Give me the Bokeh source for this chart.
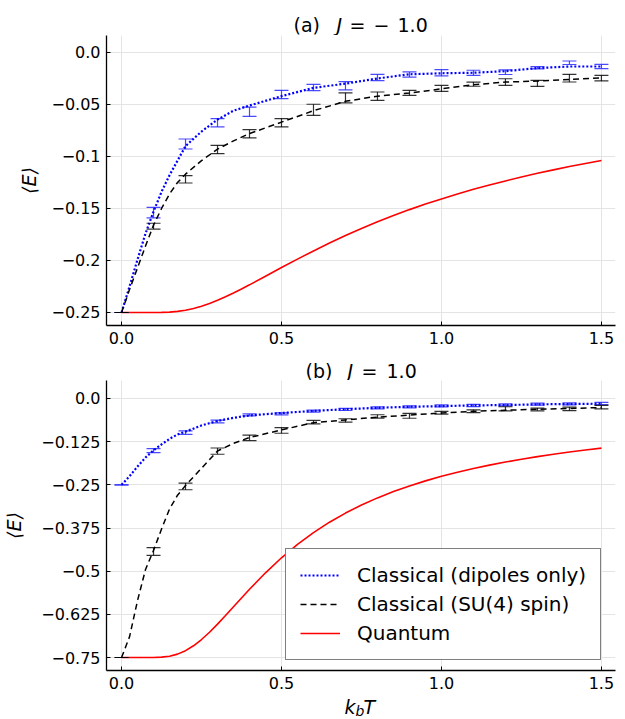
import math
from bokeh.plotting import figure
from bokeh.layouts import column
from bokeh.models import Range1d, FixedTicker, Legend, LegendItem
from bokeh.core.properties import value
from bokeh.embed import file_html
from bokeh.resources import INLINE

# ---------------- data ----------------
T_pts = [0.0, 0.1, 0.2, 0.3, 0.4, 0.5, 0.6, 0.7, 0.8, 0.9, 1.0, 1.1, 1.2, 1.3, 1.4, 1.5]

# (a) J = -1.0  -- Monte Carlo points with error bars
a_dip_mean = [-0.25, -0.154, -0.088, -0.0676, -0.057, -0.0404, -0.0337, -0.032, -0.024, -0.0212,
              -0.0196, -0.0196, -0.019, -0.0147, -0.0099, -0.0135]
a_dip_err = [0.0, 0.005, 0.0048, 0.004, 0.0045, 0.004, 0.003, 0.004, 0.003, 0.0025,
             0.003, 0.0025, 0.0022, 0.001, 0.0017, 0.002]
a_su4_mean = [-0.25, -0.167, -0.122, -0.0933, -0.0782, -0.0676, -0.0551, -0.0436, -0.042, -0.0388,
              -0.0346, -0.0305, -0.0285, -0.0298, -0.0247, -0.0247]
a_su4_err = [0.0, 0.0028, 0.0035, 0.004, 0.004, 0.004, 0.0053, 0.0048, 0.004, 0.0024,
             0.0029, 0.002, 0.0032, 0.0029, 0.0037, 0.0027]

# (b) J = 1.0
b_dip_mean = [-0.25, -0.151, -0.099, -0.0666, -0.0473, -0.0444, -0.0367, -0.0318, -0.027, -0.0241,
              -0.0212, -0.0203, -0.0183, -0.0164, -0.0154, -0.0145]
b_dip_err = [0.0, 0.006, 0.005, 0.004, 0.003, 0.003, 0.003, 0.003, 0.003, 0.003,
             0.003, 0.003, 0.003, 0.003, 0.003, 0.003]
b_su4_mean = [-0.75, -0.443, -0.2546, -0.1524, -0.1138, -0.0926, -0.0685, -0.0637, -0.0521, -0.0502,
              -0.0415, -0.0367, -0.0299, -0.0318, -0.0299, -0.0251]
b_su4_err = [0.0, 0.011, 0.0096, 0.009, 0.008, 0.008, 0.005, 0.005, 0.005, 0.007,
             0.004, 0.004, 0.006, 0.004, 0.005, 0.005]

# classical curves (dotted / dashed lines)
T_line = [0.0, 0.025, 0.05, 0.075, 0.1, 0.125, 0.15, 0.175, 0.2, 0.25, 0.3, 0.35, 0.4,
          0.5, 0.6, 0.7, 0.8, 0.9, 1.0, 1.1, 1.2, 1.3, 1.4, 1.5]
a_dip_line = [-0.25, -0.225, -0.199, -0.174, -0.153, -0.134, -0.118, -0.104, -0.090, -0.076, -0.0645,
              -0.056, -0.051, -0.042, -0.034, -0.030, -0.025, -0.021, -0.020, -0.0195, -0.018,
              -0.015, -0.0135, -0.0135]
a_su4_line = [-0.25, -0.228, -0.207, -0.186, -0.166, -0.150, -0.136, -0.125, -0.117, -0.104, -0.093,
              -0.085, -0.078, -0.067, -0.056, -0.047, -0.042, -0.039, -0.035, -0.031, -0.0285,
              -0.0275, -0.026, -0.0244]
b_dip_line = [-0.25, -0.225, -0.197, -0.171, -0.150, -0.133, -0.117, -0.104, -0.096, -0.078, -0.065,
              -0.056, -0.049, -0.042, -0.036, -0.031, -0.027, -0.024, -0.022, -0.020, -0.019,
              -0.017, -0.016, -0.015]
b_su4_line = [-0.75, -0.69, -0.585, -0.495, -0.44, -0.378, -0.32, -0.28, -0.252, -0.202, -0.152,
              -0.13, -0.113, -0.091, -0.070, -0.062, -0.054, -0.048, -0.042, -0.037, -0.034,
              -0.031, -0.029, -0.026]

# quantum curves
T_q = [0.0, 0.05, 0.1, 0.125, 0.15, 0.175, 0.2, 0.225, 0.25, 0.275, 0.3, 0.325, 0.35, 0.375,
       0.4, 0.45, 0.5, 0.55, 0.6, 0.65, 0.7, 0.75, 0.8, 0.85, 0.9, 0.95, 1.0, 1.05, 1.1, 1.15,
       1.2, 1.25, 1.3, 1.35, 1.4, 1.45, 1.5]
a_quantum = [-0.25, -0.25, -0.25, -0.2499, -0.2496, -0.2489, -0.2478, -0.2461, -0.2439, -0.2413,
             -0.2383, -0.2349, -0.2312, -0.2274, -0.2234, -0.2151, -0.2068, -0.1987, -0.1908,
             -0.1832, -0.1760, -0.1692, -0.1628, -0.1568, -0.1511, -0.1458, -0.1408, -0.1361,
             -0.1316, -0.1274, -0.1235, -0.1197, -0.1162, -0.1129, -0.1097, -0.1067, -0.1039]
b_quantum = [-0.75, -0.75, -0.7499, -0.7490, -0.7462, -0.7402, -0.7302, -0.7160, -0.6979, -0.6768,
             -0.6533, -0.6285, -0.6030, -0.5775, -0.5524, -0.5047, -0.4612, -0.4225, -0.3883,
             -0.3582, -0.3318, -0.3084, -0.2878, -0.2695, -0.2531, -0.2385, -0.2254, -0.2135,
             -0.2028, -0.1930, -0.1841, -0.1759, -0.1684, -0.1615, -0.1551, -0.1492, -0.1437]

x_ticks = [0.0, 0.5, 1.0, 1.5]
x_tick_labels = ["0.0", "0.5", "1.0", "1.5"]
a_y_ticks = [0.0, -0.05, -0.1, -0.15, -0.2, -0.25]
a_y_tick_labels = ["0.0", "\u22120.05", "\u22120.1", "\u22120.15", "\u22120.2", "\u22120.25"]
b_y_ticks = [0.0, -0.125, -0.25, -0.375, -0.5, -0.625, -0.75]
b_y_tick_labels = ["0.0", "\u22120.125", "\u22120.25", "\u22120.375", "\u22120.5", "\u22120.625", "\u22120.75"]

legend_labels = ["Classical (dipoles only)", "Classical (SU(4) spin)", "Quantum"]
y_label = "\u27e8E\u27e9"

FONT = "DejaVu Sans"
BORDER_L, BORDER_R, WIDTH = 106, 10, 625


def make_fig(height, border_bottom, y_lo, y_hi, yticks, ylabels, ylabel_standoff):
    p = figure(width=WIDTH, height=height, output_backend="svg", toolbar_location=None,
               x_range=Range1d(-0.047, 1.544), y_range=Range1d(y_lo, y_hi),
               min_border_left=BORDER_L, min_border_right=BORDER_R,
               min_border_top=0, min_border_bottom=border_bottom)
    p.outline_line_color = None
    p.background_fill_color = "white"
    p.border_fill_color = "white"
    p.xaxis.ticker = FixedTicker(ticks=x_ticks)
    p.xaxis.major_label_overrides = {t: l for t, l in zip(x_ticks, x_tick_labels)}
    p.yaxis.ticker = FixedTicker(ticks=yticks)
    p.yaxis.major_label_overrides = {t: l for t, l in zip(yticks, ylabels)}
    for ax in (p.xaxis[0], p.yaxis[0]):
        ax.major_label_text_font = FONT
        ax.major_label_text_font_size = "16px"
        ax.major_label_text_color = "black"
        ax.major_tick_in = 4
        ax.major_tick_out = 0
        ax.minor_tick_in = 0
        ax.minor_tick_out = 0
        ax.axis_line_color = "black"
        ax.axis_line_width = 1.3
        ax.major_tick_line_color = "black"
        ax.major_label_standoff = 6
    p.yaxis.axis_label = y_label
    p.yaxis.axis_label_text_font = FONT
    p.yaxis.axis_label_text_font_size = "19px"
    p.yaxis.axis_label_text_font_style = "italic"
    p.yaxis.axis_label_text_color = "black"
    p.yaxis.axis_label_standoff = ylabel_standoff
    p.xgrid.grid_line_color = "#e4e4e4"
    p.ygrid.grid_line_color = "#e4e4e4"
    p.xgrid.grid_line_width = 1
    p.ygrid.grid_line_width = 1
    return p


def text_fig(height, items):
    """A blank strip with the same frame as the panels (x in page pixels, y measured upward);
    items = (x_left, y_centre, text, size, style)."""
    f = figure(width=WIDTH, height=height, output_backend="svg", toolbar_location=None,
               title=None, x_range=Range1d(BORDER_L, WIDTH - BORDER_R), y_range=Range1d(0, height),
               x_axis_type=None, y_axis_type=None,
               min_border_left=BORDER_L, min_border_right=BORDER_R,
               min_border_top=0, min_border_bottom=0)
    f.outline_line_color = None
    f.background_fill_color = "white"
    f.border_fill_color = "white"
    for (x, y, txt, size, style) in items:
        f.text(x=[x], y=[y], text=[txt], text_font=value(FONT), text_font_size=value(f"{size}px"),
               text_font_style=value(style), text_color="black",
               text_align=value("left"), text_baseline=value("middle"))
    return f


def errbars(p, T, m, e, color, alpha):
    lo = [mi - ei for mi, ei in zip(m, e)]
    hi = [mi + ei for mi, ei in zip(m, e)]
    p.segment(T, lo, T, hi, line_color=color, line_width=1.2, line_alpha=alpha)
    p.scatter(T + T, lo + hi, marker="dash", size=14, line_color=color, line_width=1.2,
              line_alpha=alpha, fill_color=None)


def draw_panel(p, dip_mean, dip_err, su4_mean, su4_err, dip_line, su4_line, quantum):
    rq = p.line(T_q, quantum, line_color="red", line_width=1.6)
    errbars(p, T_pts, dip_mean, dip_err, "#2a2aff", 0.85)
    rd = p.line(T_line, dip_line, line_color="blue", line_width=2.2, line_dash="2 2")
    errbars(p, T_pts, su4_mean, su4_err, "black", 0.8)
    rs = p.line(T_line, su4_line, line_color="black", line_width=1.5, line_dash="6 4")
    return rd, rs, rq


# ---------------- (a) title strip (35 px) ----------------
title_a = text_fig(35, [
    (293, 11, "(a)", 19, "normal"),
    (336, 11, "J", 19, "italic"),
    (349, 11, "=", 19, "normal"),
    (373, 11, "\u2212", 19, "normal"),
    (397, 11, "1.0", 19, "normal"),
])

# ---------------- top panel (317 px) ----------------
p1 = make_fig(317, 27, -0.2625, 0.0163, a_y_ticks, a_y_tick_labels, 8)
draw_panel(p1, a_dip_mean, a_dip_err, a_su4_mean, a_su4_err, a_dip_line, a_su4_line, a_quantum)

# ---------------- (b) title strip (28 px) ----------------
title_b = text_fig(28, [
    (305, 10, "(b)", 19, "normal"),
    (347, 10, "J", 19, "italic"),
    (361, 10, "=", 19, "normal"),
    (386, 10, "1.0", 19, "normal"),
])

# ---------------- bottom panel (315 px) ----------------
p2 = make_fig(315, 25, -0.7876, 0.0521, b_y_ticks, b_y_tick_labels, 13)
rd, rs, rq = draw_panel(p2, b_dip_mean, b_dip_err, b_su4_mean, b_su4_err, b_dip_line, b_su4_line, b_quantum)

legend = Legend(items=[LegendItem(label=legend_labels[0], renderers=[rd]),
                       LegendItem(label=legend_labels[1], renderers=[rs]),
                       LegendItem(label=legend_labels[2], renderers=[rq])],
                location=(179, 10), margin=0, padding=14, spacing=5,
                glyph_width=40, glyph_height=20, label_height=20, label_standoff=17,
                label_text_font=FONT, label_text_font_size="20px", label_text_color="black",
                border_line_color="black", border_line_width=1,
                background_fill_color="white", background_fill_alpha=1.0)
p2.add_layout(legend)

# ---------------- x label strip (24 px) ----------------
xlab = text_fig(24, [
    (344, 12.5, "k", 19, "italic"),
    (355, 8.5, "b", 14, "italic"),
    (363, 12.5, "T", 19, "italic"),
])

layout = column(title_a, p1, title_b, p2, xlab, spacing=0)
open("out.html", "w").write(file_html(layout, INLINE))
